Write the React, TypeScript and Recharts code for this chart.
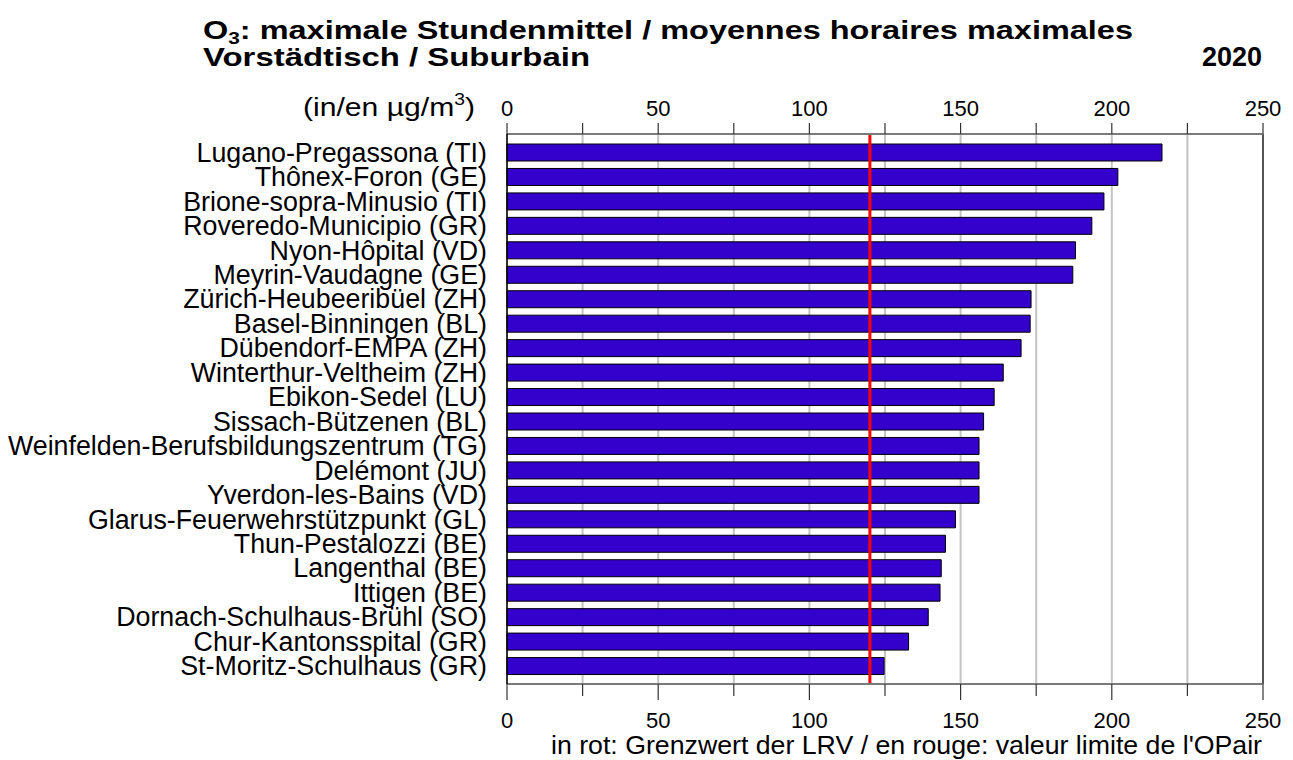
import React from "react";
import {
  ComposedChart,
  Bar,
  Line,
  XAxis,
  YAxis,
  CartesianGrid,
  ReferenceLine,
} from "recharts";

const stations: string[] = [
  "Lugano-Pregassona (TI)",
  "Thônex-Foron (GE)",
  "Brione-sopra-Minusio (TI)",
  "Roveredo-Municipio (GR)",
  "Nyon-Hôpital (VD)",
  "Meyrin-Vaudagne (GE)",
  "Zürich-Heubeeribüel (ZH)",
  "Basel-Binningen (BL)",
  "Dübendorf-EMPA (ZH)",
  "Winterthur-Veltheim (ZH)",
  "Ebikon-Sedel (LU)",
  "Sissach-Bützenen (BL)",
  "Weinfelden-Berufsbildungszentrum (TG)",
  "Delémont (JU)",
  "Yverdon-les-Bains (VD)",
  "Glarus-Feuerwehrstützpunkt (GL)",
  "Thun-Pestalozzi (BE)",
  "Langenthal (BE)",
  "Ittigen (BE)",
  "Dornach-Schulhaus-Brühl (SO)",
  "Chur-Kantonsspital (GR)",
  "St-Moritz-Schulhaus (GR)",
];

const maxHourly: number[] = [
  216.6, 202.0, 197.4, 193.4, 188.0, 187.1, 173.3, 173.0, 170.0, 164.1, 161.1,
  157.6, 156.1, 156.1, 156.1, 148.3, 145.0, 143.6, 143.2, 139.3, 132.8, 124.7,
];

const limitValue = 120;
const xTicks: number[] = [0, 25, 50, 75, 100, 125, 150, 175, 200, 225, 250];
const labelledTicks: number[] = [0, 50, 100, 150, 200, 250];

const titleLine1a = "O";
const titleSub = "3";
const titleLine1b = ": maximale Stundenmittel  / moyennes horaires maximales";
const titleLine2 = "Vorstädtisch / Suburbain";
const yearText = "2020";
const unitText = "(in/en µg/m";
const footerText = "in rot: Grenzwert der LRV / en rouge: valeur limite de l'OPair";

const data = stations.map((name, i) => ({ name, value: maxHourly[i] }));

const FONT = "'Liberation Sans', Arial, Helvetica, sans-serif";

const BottomTick = (props: any) => {
  const { x, y, payload } = props;
  const major = labelledTicks.includes(payload.value);
  return (
    <g>
      <line x1={x} x2={x} y1={y} y2={y + (major ? 16 : 12)} stroke="#333" strokeWidth={1.2} />
      {major && (
        <text x={x} y={y + 36} textAnchor="middle" dy="0.355em" fontSize={22} fontFamily={FONT} fill="#000">
          {payload.value}
        </text>
      )}
    </g>
  );
};

const TopTick = (props: any) => {
  const { x, y, payload } = props;
  const major = labelledTicks.includes(payload.value);
  return (
    <g>
      <line x1={x} x2={x} y1={y} y2={y - 11} stroke="#333" strokeWidth={1.2} />
      {major && (
        <text x={x} y={y - 26} textAnchor="middle" dy="0.355em" fontSize={22} fontFamily={FONT} fill="#000">
          {payload.value}
        </text>
      )}
    </g>
  );
};

const StationTick = (props: any) => {
  const { x, y, payload } = props;
  return (
    <text x={x} y={y} textAnchor="end" dy="0.355em" fontSize={26.8} fontFamily={FONT} fill="#000">
      {payload.value}
    </text>
  );
};

export default function App() {
  return (
    <div style={{ position: "absolute", left: 0, top: 0, width: 1293, height: 760, background: "#fff" }}>
      <ComposedChart
        width={1293}
        height={760}
        data={data}
        layout="vertical"
        margin={{ top: 104, right: 30, bottom: 46, left: 0 }}
      >
        <CartesianGrid xAxisId="bottom" horizontal={false} stroke="#c4c4c4" strokeWidth={2} />
        <XAxis
          xAxisId="top"
          orientation="top"
          type="number"
          domain={[0, 250]}
          ticks={xTicks}
          height={30}
          tickSize={0}
          tickMargin={0}
          tickLine={false}
          axisLine={{ stroke: "#7a7a7a", strokeWidth: 2 }}
          tick={<TopTick />}
          interval={0}
        />
        <XAxis
          xAxisId="bottom"
          orientation="bottom"
          type="number"
          domain={[0, 250]}
          ticks={xTicks}
          height={30}
          tickSize={0}
          tickMargin={0}
          tickLine={false}
          axisLine={{ stroke: "#7a7a7a", strokeWidth: 2 }}
          tick={<BottomTick />}
          interval={0}
        />
        <YAxis
          type="category"
          dataKey="name"
          width={507}
          interval={0}
          tickSize={0}
          tickMargin={20}
          tickLine={false}
          padding={{ top: 6, bottom: 6 }}
          axisLine={{ stroke: "#000", strokeWidth: 1.5 }}
          tick={<StationTick />}
        />
        <Bar
          xAxisId="bottom"
          dataKey="value"
          barSize={17}
          fill="#3300cc"
          stroke="#000"
          strokeWidth={1}
          isAnimationActive={false}
        />
        <Line
          xAxisId="top"
          dataKey="value"
          stroke="none"
          strokeOpacity={0}
          dot={false}
          activeDot={false}
          legendType="none"
          isAnimationActive={false}
        />
        <ReferenceLine xAxisId="bottom" x={250} stroke="#555" strokeWidth={2} />
        <ReferenceLine xAxisId="bottom" x={limitValue} stroke="#ff0000" strokeWidth={3} />
      </ComposedChart>
      <svg
        width={1293}
        height={760}
        style={{ position: "absolute", left: 0, top: 0, pointerEvents: "none" }}
        fontFamily={FONT}
      >
        <text x={203} y={38.5} fontSize={26.5} fontWeight="bold" fill="#000" textLength={930} lengthAdjust="spacingAndGlyphs">
          <tspan>{titleLine1a}</tspan>
          <tspan fontSize={17} dy={5}>{titleSub}</tspan>
          <tspan dy={-5}>{titleLine1b}</tspan>
        </text>
        <text x={203} y={66} fontSize={26.5} fontWeight="bold" fill="#000" textLength={387} lengthAdjust="spacingAndGlyphs">
          {titleLine2}
        </text>
        <text x={1262} y={66} fontSize={27} fontWeight="bold" fill="#000" textAnchor="end">
          {yearText}
        </text>
        <text x={303} y={116} fontSize={25} fill="#000" textLength={172} lengthAdjust="spacingAndGlyphs">
          <tspan>{unitText}</tspan>
          <tspan fontSize={16} dy={-11}>3</tspan>
          <tspan dy={11}>)</tspan>
        </text>
        <text x={551} y={754} fontSize={26} fill="#000" textLength={711} lengthAdjust="spacingAndGlyphs">
          {footerText}
        </text>
      </svg>
    </div>
  );
}
